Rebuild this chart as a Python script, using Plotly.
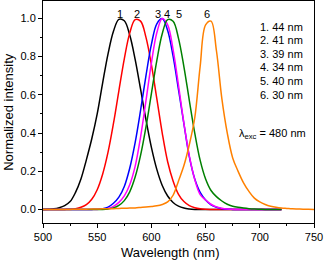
import plotly.graph_objects as go

# ---- data ----
wavelength = [500, 505, 510, 515, 520, 525, 530, 535, 540, 545, 550, 555, 560, 565, 570,
              575, 580, 585, 590, 595, 600, 605, 610, 615, 620, 625, 630, 635, 640, 645,
              650, 655, 660, 665, 670, 675, 680, 685, 690, 695, 700, 705, 710, 715, 720]

wavelength_6 = [500, 505, 510, 515, 520, 525, 530, 535, 540, 545, 550, 555, 560, 565, 570,
                575, 580, 585, 590, 595, 600, 605, 610, 615, 620, 625, 630, 635, 640, 645,
                650, 655, 660, 665, 670, 675, 680, 685, 690, 695, 700, 705, 710, 715, 720,
                725, 730, 735, 740, 745, 750]

curve_1 = [0.001, 0.002, 0.004, 0.01, 0.021, 0.042, 0.09, 0.16, 0.26, 0.37, 0.50, 0.661,
           0.814, 0.932, 0.994, 0.987, 0.912, 0.785, 0.629, 0.469, 0.325, 0.21, 0.126,
           0.071, 0.037, 0.018, 0.008, 0.0034, 0.001, 0, 0, 0, 0, 0, 0, 0, 0, 0, 0, 0, 0,
           0, 0, 0, 0]

curve_2 = [0, 0, 0, 0, 0.001, 0.002, 0.005, 0.012, 0.026, 0.054, 0.104, 0.185, 0.30,
           0.45, 0.621, 0.788, 0.922, 0.993, 0.985, 0.90, 0.757, 0.58, 0.40, 0.25, 0.15,
           0.08, 0.042, 0.021, 0.01, 0.004, 0.0015, 0.0005, 0, 0, 0, 0, 0, 0, 0, 0, 0, 0,
           0, 0, 0]

curve_3 = [0, 0, 0, 0, 0, 0, 0, 0, 0, 0.001, 0.002, 0.005, 0.013, 0.033, 0.065, 0.121,
           0.216, 0.35, 0.518, 0.70, 0.863, 0.971, 0.998, 0.936, 0.802, 0.627, 0.448,
           0.275, 0.16, 0.09, 0.05, 0.025, 0.012, 0.005, 0.002, 0.001, 0, 0, 0, 0, 0, 0,
           0, 0, 0]

curve_4 = [0, 0, 0, 0, 0, 0, 0, 0, 0, 0, 0.001, 0.002, 0.006, 0.017, 0.038, 0.072, 0.13,
           0.226, 0.379, 0.569, 0.766, 0.924, 0.998, 0.965, 0.836, 0.649, 0.451, 0.281,
           0.157, 0.078, 0.05, 0.028, 0.014, 0.007, 0.003, 0.0015, 0, 0, 0, 0, 0, 0, 0,
           0, 0]

curve_5 = [0, 0, 0, 0, 0, 0, 0, 0, 0, 0, 0, 0.001, 0.0036, 0.009, 0.022, 0.047, 0.093,
           0.17, 0.283, 0.432, 0.606, 0.779, 0.919, 0.993, 0.984, 0.895, 0.746, 0.57,
           0.40, 0.257, 0.16, 0.10, 0.068, 0.045, 0.028, 0.018, 0.012, 0.008, 0.005,
           0.003, 0.002, 0.001, 0.001, 0, 0]

curve_6 = [0, 0, 0, 0.001, 0.001, 0.001, 0.002, 0.002, 0.002, 0.003, 0.003, 0.004, 0.004,
           0.005, 0.006, 0.007, 0.008, 0.009, 0.011, 0.013, 0.016, 0.02, 0.027, 0.04,
           0.075, 0.15, 0.23, 0.34, 0.48, 0.75, 0.965, 0.985, 0.83, 0.58, 0.40, 0.27, 0.2,
           0.14, 0.095, 0.06, 0.04, 0.027, 0.018, 0.012, 0.008, 0.006, 0.004, 0.003,
           0.002, 0.002, 0.001]

colors = ["#000000", "#ff0000", "#0000ff", "#ff00ff", "#008000", "#ff8000"]

peak_labels = ["1", "2", "3", "4", "5", "6"]
peak_label_x = [571, 587, 606, 614, 625, 651]
fwhm_labels = ["1. 44 nm", "2. 41 nm", "3. 39 nm", "4. 34 nm", "5. 40 nm", "6. 30 nm"]
fwhm_label_y = [0.955, 0.886, 0.814, 0.743, 0.670, 0.597]

x_ticks = [500, 550, 600, 650, 700, 750]
y_ticks = [0.0, 0.2, 0.4, 0.6, 0.8, 1.0]

FONT = "Liberation Sans, Arial, Helvetica, sans-serif"

fig = go.Figure()
series = [(wavelength, curve_1), (wavelength, curve_2), (wavelength, curve_3),
          (wavelength, curve_4), (wavelength, curve_5), (wavelength_6, curve_6)]
for (xs, ys), c in zip(series, colors):
    fig.add_trace(go.Scatter(x=xs, y=ys, mode="lines",
                             line=dict(color=c, width=1.5, shape="spline", smoothing=1.0),
                             showlegend=False, hoverinfo="skip"))

annotations = []
for t, x in zip(peak_labels, peak_label_x):
    annotations.append(dict(x=x, y=1.02, xref="x", yref="y", text=t, showarrow=False,
                            xanchor="center", yanchor="middle",
                            font=dict(size=11, color="black", family=FONT)))
for t, y in zip(fwhm_labels, fwhm_label_y):
    annotations.append(dict(x=698.5, y=y, xref="x", yref="y", text=t, showarrow=False,
                            xanchor="left", yanchor="middle",
                            font=dict(size=11, color="black", family=FONT)))
annotations.append(dict(x=679, y=0.396, xref="x", yref="y",
                        text="λ<sub>exc</sub> = 480 nm", showarrow=False,
                        xanchor="left", yanchor="middle",
                        font=dict(size=11, color="black", family=FONT)))
annotations.append(dict(x=0.47, y=-0.131, xref="paper", yref="paper",
                        text="Wavelength (nm)", showarrow=False,
                        xanchor="center", yanchor="middle",
                        font=dict(size=13, color="black", family=FONT)))
annotations.append(dict(x=-0.13, y=0.5, xref="paper", yref="paper",
                        text="Normalized intensity", showarrow=False, textangle=-90,
                        xanchor="center", yanchor="middle",
                        font=dict(size=13, color="black", family=FONT)))

fig.update_layout(
    width=324, height=261,
    margin=dict(l=43, r=10, t=1, b=38),
    paper_bgcolor="white", plot_bgcolor="white",
    font=dict(family=FONT, size=11, color="black"),
    annotations=annotations,
    xaxis=dict(range=[500, 750], tickvals=x_ticks, ticks="outside", ticklen=4,
               tickwidth=1, tickcolor="black", showline=True, linecolor="black",
               linewidth=1, mirror=True, showgrid=False, zeroline=False,
               tickfont=dict(size=11, family=FONT),
               minor=dict(dtick=25, tick0=500, ticks="outside", ticklen=2,
                          tickcolor="black", showgrid=False)),
    yaxis=dict(range=[-0.07, 1.09], tickvals=y_ticks, tickformat=".1f",
               ticks="outside", ticklen=4, tickwidth=1, tickcolor="black",
               showline=True, linecolor="black", linewidth=1, mirror=True,
               showgrid=False, zeroline=False, tickfont=dict(size=11, family=FONT),
               minor=dict(dtick=0.1, tick0=0, ticks="outside", ticklen=2,
                          tickcolor="black", showgrid=False)),
)

fig.write_html("out.html", config={"displayModeBar": False},
               post_script="document.body.style.margin='0';document.body.style.padding='0';")
